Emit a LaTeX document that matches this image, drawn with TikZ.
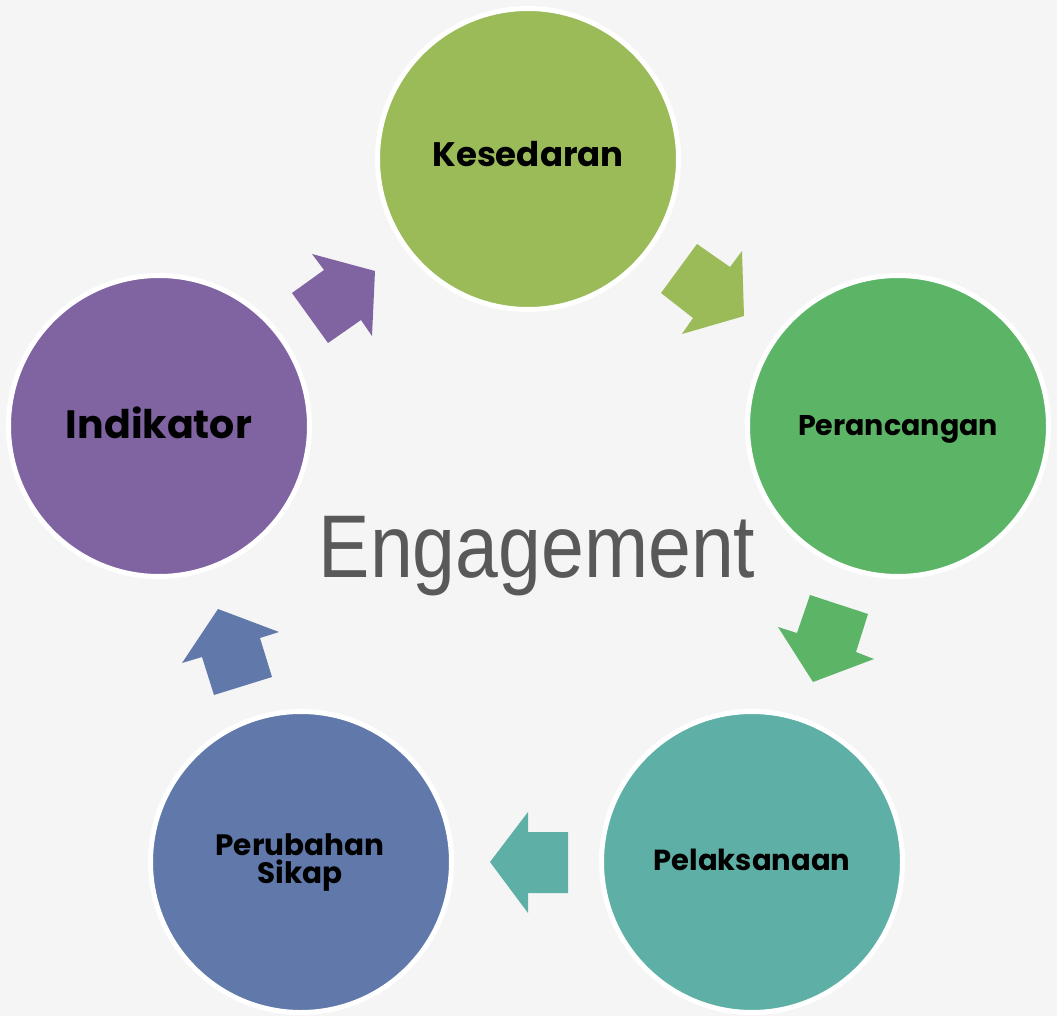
\documentclass[tikz,border=0pt]{standalone}
\usepackage{fontspec}
\newfontfamily\labelfont{Poppins}
\newfontfamily\engfont{Liberation Sans}
\definecolor{bgc}{HTML}{F5F5F5}
\definecolor{kesc}{HTML}{9BBB59}
\definecolor{perc}{HTML}{5CB566}
\definecolor{pelc}{HTML}{5EAFA6}
\definecolor{peruc}{HTML}{6079AA}
\definecolor{indc}{HTML}{8064A2}
\definecolor{engc}{HTML}{595959}
\begin{document}
\begin{tikzpicture}[x=1pt,y=-1pt,
  stage/.style={circle,draw=white,line width=5pt,minimum size=301pt,inner sep=0pt},
  lbl/.style={anchor=base,inner sep=0pt,text=black,font=\labelfont\bfseries},
  blockarrow/.style={draw=none}]
\fill[bgc] (0,0) rectangle (1057,1016);
\useasboundingbox (0,0) rectangle (1057,1016);

% circles
\node[stage,fill=kesc]  (kes)  at (528,159) {};
\node[stage,fill=perc]  (per)  at (898,426) {};
\node[stage,fill=pelc]  (pel)  at (752,862) {};
\node[stage,fill=peruc] (peru) at (301,862) {};
\node[stage,fill=indc]  (ind)  at (159,426) {};

% labels
\node[lbl] (kest) at (528,167) {\fontsize{34}{34}\selectfont Kesedaran};
\node[lbl] (pert) at (898,435) {\fontsize{28.5}{28.5}\selectfont Perancangan};
\node[lbl] (pelt) at (752,870) {\fontsize{29}{29}\selectfont Pelaksanaan};
\node[lbl] (perut1) at (300,855) {\fontsize{29.5}{29.5}\selectfont Perubahan};
\node[lbl] (perut2) at (300,883) {\fontsize{29.5}{29.5}\selectfont Sikap};
\node[lbl] (indt) at (159,438) {\fontsize{39.5}{39.5}\selectfont Indikator};

% centre title
\node[anchor=base,inner sep=0pt,text=engc] (eng) at (537,577)
  {\engfont\fontsize{89}{89}\selectfont\scalebox{0.865}[1]{Engagement}};

% block arrows
\fill[indc,blockarrow] (312,254) -- (375,271) -- (372,336) -- (361,320) -- (328,343) -- (292,293) -- (324,270) -- cycle;
\fill[kesc,blockarrow] (697,244) -- (730,267) -- (742,251) -- (744,316) -- (682,334) -- (693,318) -- (661,293) -- cycle;
\fill[perc,blockarrow] (810,595) -- (868,614) -- (856,652) -- (874,659) -- (813,682) -- (778,627) -- (797,633) -- cycle;
\fill[pelc,blockarrow] (490,862) -- (528,812) -- (528,832) -- (568,832) -- (568,893) -- (528,893) -- (528,913) -- cycle;
\fill[peruc,blockarrow] (218,609) -- (279,632) -- (260,638) -- (272,677) -- (214,695) -- (202,657) -- (182,663) -- cycle;
\end{tikzpicture}
\end{document}
